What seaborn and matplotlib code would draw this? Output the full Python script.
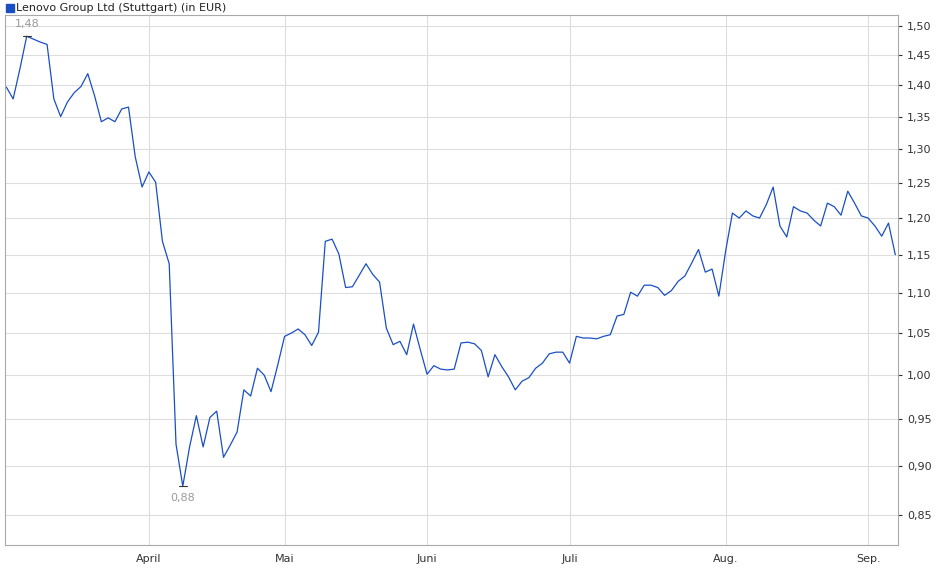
import numpy as np
import pandas as pd
import matplotlib
matplotlib.use("Agg")
import matplotlib.pyplot as plt
import matplotlib.ticker as mticker
import seaborn as sns

# Kurse (EUR)
kurs = [1.397, 1.378, 1.427, 1.482, 1.477, 1.472, 1.468, 1.378, 1.350, 1.373,
        1.388, 1.398, 1.419, 1.383, 1.342, 1.348, 1.342, 1.362, 1.365, 1.288,
        1.244, 1.266, 1.251, 1.168, 1.138, 0.923, 0.879, 0.920, 0.954, 0.920,
        0.952, 0.959, 0.909, 0.922, 0.936, 0.983, 0.976, 1.008, 1.000, 0.981,
        1.012, 1.046, 1.050, 1.055, 1.048, 1.035, 1.051, 1.168, 1.171, 1.151,
        1.107, 1.108, 1.123, 1.138, 1.124, 1.114, 1.056, 1.036, 1.040, 1.024,
        1.061, 1.030, 1.001, 1.011, 1.007, 1.006, 1.007, 1.038, 1.039, 1.037,
        1.029, 0.998, 1.024, 1.010, 0.998, 0.983, 0.993, 0.997, 1.008, 1.014,
        1.025, 1.027, 1.027, 1.014, 1.046, 1.044, 1.044, 1.043, 1.046, 1.048,
        1.071, 1.073, 1.101, 1.096, 1.110, 1.110, 1.107, 1.097, 1.103, 1.115,
        1.122, 1.139, 1.157, 1.127, 1.131, 1.096, 1.155, 1.207, 1.200, 1.210,
        1.203, 1.200, 1.219, 1.244, 1.189, 1.174, 1.216, 1.210, 1.207, 1.197,
        1.189, 1.221, 1.216, 1.204, 1.238, 1.221, 1.203, 1.200, 1.189, 1.175,
        1.193, 1.150]
monate = ["April", "Mai", "Juni", "Juli", "Aug.", "Sep."]
y_ticks = [0.85, 0.90, 0.95, 1.00, 1.05, 1.10, 1.15, 1.20, 1.25, 1.30, 1.35, 1.40, 1.45, 1.50]

n = len(kurs)
tage = pd.bdate_range("2025-03-03", periods=n + 5)
tage = tage[~tage.isin(pd.to_datetime(["2025-04-18", "2025-04-21", "2025-05-01"]))][:n]
df = pd.DataFrame({"i": np.arange(n), "datum": tage, "kurs": kurs})

# Monatsanfaenge
m = df["datum"].dt.month
starts = df.index[m != m.shift()][1:]

sns.set_style("white")
plt.rcParams["font.family"] = ["DejaVu Sans"]
fig = plt.figure(figsize=(9.4, 5.79), dpi=100)
ax = fig.add_axes([5 / 940, 34 / 579, 893 / 940, 530 / 579])

sns.lineplot(data=df, x="i", y="kurs", ax=ax, color="#1a4fc4", linewidth=0.9)
ax.set_yscale("log")
ax.set_ylim(0.821, 1.519)
ax.set_xlim(-0.2, n - 0.6)
ax.yaxis.tick_right()
ax.yaxis.set_major_locator(mticker.FixedLocator(y_ticks))
ax.yaxis.set_minor_locator(mticker.NullLocator())
ax.yaxis.set_major_formatter(mticker.FuncFormatter(lambda v, p: f"{v:.2f}".replace(".", ",")))
ax.set_xticks(list(starts))
ax.set_xticklabels(monate[:len(starts)])
ax.tick_params(labelsize=8, colors="#333333", length=3)
ax.grid(True, color="#dddddd", linewidth=0.8)
ax.set_xlabel("")
ax.set_ylabel("")
for s in ax.spines.values():
    s.set_color("#aaaaaa")

imax = int(np.argmax(kurs))
imin = int(np.argmin(kurs))
for idx, off, va in [(imax, 5, "bottom"), (imin, -5, "top")]:
    ax.plot([idx - 0.6, idx + 0.6], [kurs[idx]] * 2, color="#333333", lw=0.8)
    ax.annotate(f"{kurs[idx]:.2f}".replace(".", ","), (idx, kurs[idx]),
                xytext=(0, off), textcoords="offset points", ha="center", va=va,
                fontsize=8, color="#999999")

fig.patches.append(plt.Rectangle((6 / 940, 1 - 12 / 579), 8 / 940, 8 / 579,
                                 transform=fig.transFigure, color="#1a4fc4"))
fig.text(16 / 940, 1 - 8 / 579, "Lenovo Group Ltd (Stuttgart) (in EUR)",
         fontsize=8, va="center", color="#222222")

fig.savefig("out.png", dpi=100)
